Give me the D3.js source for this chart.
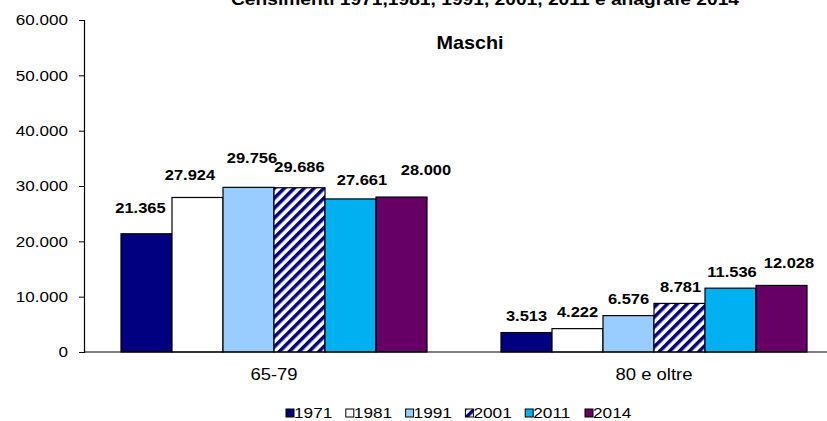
<!DOCTYPE html>
<html>
<head>
<meta charset="utf-8">
<script src="https://cdn.jsdelivr.net/npm/d3@7"></script>
<style>
  body { margin: 0; background: #fff; }
  svg { display: block; font-family: "Liberation Sans", Arial, sans-serif; }
</style>
</head>
<body>
<div id="chart"></div>
<script>
// data
var categories = ["65-79", "80 e oltre"];
var years = ["1971", "1981", "1991", "2001", "2011", "2014"];
var values65 = [21365, 27924, 29756, 29686, 27661, 28000];
var values80 = [3513, 4222, 6576, 8781, 11536, 12028];
var yTicks = [0, 10000, 20000, 30000, 40000, 50000, 60000];
var title = "Censimenti 1971,1981, 1991, 2001, 2011 e anagrafe 2014";
var subtitle = "Maschi";

// label nudges (the labels in the original were moved by hand)
var labelNudge = [
  [[-6, -9], [-7.5, -6], [3.5, -12.5], [0, -4.5], [11.5, -2.5], [24.5, -10.5]],
  [[0, 0], [0, 0], [0, 0], [1, 0], [1.5, 0], [7.5, -6]]
];

var W = 827, H = 421;
var colors = {"1971": "#000080", "1981": "#ffffff", "1991": "#99ccff",
              "2001": "url(#hatch)", "2011": "#00b0f0", "2014": "#660066"};

var svg = d3.select("#chart").append("svg")
    .attr("width", W).attr("height", H);

var defs = svg.append("defs");
var pat = defs.append("pattern")
    .attr("id", "hatch")
    .attr("patternUnits", "userSpaceOnUse")
    .attr("width", 7).attr("height", 7)
    .attr("patternTransform", "rotate(45)");
pat.append("rect").attr("width", 7).attr("height", 7).attr("fill", "#fff");
pat.append("rect").attr("width", 3.5).attr("height", 7).attr("fill", "#000080");

// text stretched a bit wider, like the original
function stext(parent, x, y, str, anchor, sx) {
  return parent.append("text")
    .attr("transform", "translate(" + x + "," + y + ") scale(" + (sx || 1.1) + ",1)")
    .attr("text-anchor", anchor || "middle")
    .text(str);
}

var x0 = d3.scaleBand().domain(categories).range([84, 844]);
var x1 = d3.scaleBand().domain(years).range([37, x0.bandwidth() - 37]);
var y = d3.scaleLinear().domain([0, 60000]).range([352, 20]);
var fmt = function(v) { return d3.format(",")(v).replace(/,/g, "."); };

// y axis
var yAxis = svg.append("g")
    .attr("transform", "translate(84,0)")
    .call(d3.axisLeft(y).tickValues(yTicks).tickSize(5).tickFormat(fmt));
yAxis.select(".domain").attr("stroke", "#000").attr("stroke-width", 1.2);
yAxis.selectAll(".tick line").attr("stroke", "#000");
yAxis.selectAll(".tick text")
    .attr("x", 0)
    .attr("transform", "translate(-16,0) scale(1.1,1)")
    .attr("font-size", 15.5).attr("fill", "#000");

// bars
var data = [values65, values80];
var groups = svg.selectAll(".grp")
    .data(categories)
  .enter().append("g")
    .attr("class", "grp")
    .attr("transform", function(d) { return "translate(" + x0(d) + ",0)"; });

groups.each(function(cat, ci) {
  var g = d3.select(this);
  var vals = data[ci];
  g.selectAll("rect")
      .data(vals)
    .enter().append("rect")
      .attr("x", function(d, i) { return x1(years[i]); })
      .attr("y", function(d) { return y(d); })
      .attr("width", x1.bandwidth())
      .attr("height", function(d) { return y(0) - y(d); })
      .attr("fill", function(d, i) { return colors[years[i]]; })
      .attr("stroke", "#000")
      .attr("stroke-width", 1.2);

  vals.forEach(function(v, i) {
    var nx = labelNudge[ci][i][0], ny = labelNudge[ci][i][1];
    stext(g, x1(years[i]) + x1.bandwidth() / 2 + nx, y(v) - 11.5 + ny, fmt(v), "middle", 1.1)
      .attr("font-size", 15).attr("font-weight", "bold");
  });
});

// x axis
svg.append("line")
    .attr("x1", 84).attr("x2", W).attr("y1", y(0)).attr("y2", y(0))
    .attr("stroke", "#000").attr("stroke-width", 1.2);
categories.forEach(function(c) {
  stext(svg, x0(c) + x0.bandwidth() / 2, 380, c, "middle", 1.12).attr("font-size", 16.5);
});

// titles
stext(svg, 485, 5, title, "middle", 1.13).attr("font-size", 17).attr("font-weight", "bold");
stext(svg, 470, 49, subtitle, "middle", 1.1).attr("font-size", 18).attr("font-weight", "bold");

// legend
var legend = svg.append("g");
years.forEach(function(yr, i) {
  var lx = 286 + i * 59.8;
  legend.append("rect")
      .attr("x", lx).attr("y", 409).attr("width", 8).attr("height", 8)
      .attr("fill", colors[yr]).attr("stroke", "#000").attr("stroke-width", 1);
  stext(legend, lx + 8, 418, yr, "start", 1.15).attr("font-size", 15);
});
</script>
</body>
</html>
